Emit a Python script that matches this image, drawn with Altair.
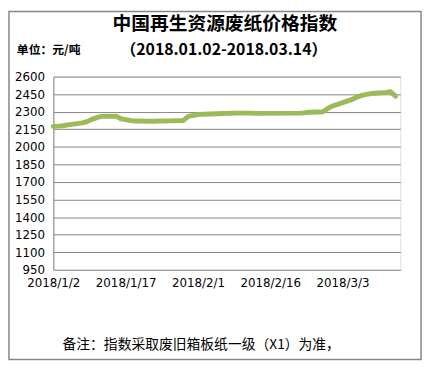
import altair as alt
import pandas as pd

dates = [
    "2018-01-02", "2018-01-03", "2018-01-04", "2018-01-05",
    "2018-01-08", "2018-01-09", "2018-01-10", "2018-01-11", "2018-01-12",
    "2018-01-15", "2018-01-16", "2018-01-17", "2018-01-18", "2018-01-19",
    "2018-01-22", "2018-01-23", "2018-01-24", "2018-01-25", "2018-01-26",
    "2018-01-29", "2018-01-30", "2018-01-31", "2018-02-01", "2018-02-02",
    "2018-02-05", "2018-02-06", "2018-02-07", "2018-02-08", "2018-02-09",
    "2018-02-12", "2018-02-13", "2018-02-14",
    "2018-02-22", "2018-02-23", "2018-02-24",
    "2018-02-26", "2018-02-27", "2018-02-28", "2018-03-01", "2018-03-02",
    "2018-03-05", "2018-03-06", "2018-03-07", "2018-03-08", "2018-03-09",
    "2018-03-12", "2018-03-13", "2018-03-14",
]
values = [
    2175, 2177, 2180, 2188,
    2205, 2215, 2235, 2250, 2260,
    2262, 2240, 2232, 2225, 2220,
    2218, 2218, 2220, 2220, 2222,
    2225, 2260, 2268, 2275, 2278,
    2282, 2284, 2286, 2287, 2288,
    2288, 2286, 2286,
    2288, 2290, 2295,
    2298, 2300, 2330, 2350, 2362,
    2405, 2425, 2440, 2448, 2455,
    2465, 2470, 2432,
]
y_ticks = [950, 1100, 1250, 1400, 1550, 1700, 1850, 2000, 2150, 2300, 2450, 2600]
x_ticks = [(2018, 1, 2), (2018, 1, 17), (2018, 2, 1), (2018, 2, 16), (2018, 3, 3)]

title = "中国再生资源废纸价格指数"
subtitle = "（2018.01.02-2018.03.14）"
unit = "单位：元/吨"
note = "备注：指数采取废旧箱板纸一级（X1）为准，"

df = pd.DataFrame({"date": [d + "T00:00:00" for d in dates], "value": values})

W, H = 352, 196

base = alt.Chart(df)

line = base.mark_line(color="#9BBB59", strokeWidth=5, strokeCap="round", strokeJoin="round").encode(
    x=alt.X(
        "date:T",
        title=None,
        scale=alt.Scale(domain=[alt.DateTime(year=2018, month=1, date=2),
                                alt.DateTime(year=2018, month=3, date=15)]),
        axis=alt.Axis(
            values=[alt.DateTime(year=y, month=m, date=d) for (y, m, d) in x_ticks],
            format="%Y/%-m/%-d",
            grid=False,
            ticks=False,
            domain=False,
            labelPadding=8,
            labelFontSize=12,
            labelColor="#000000",
            labelFont="DejaVu Sans",
            labelFlush=False,
        ),
    ),
    y=alt.Y(
        "value:Q",
        title=None,
        scale=alt.Scale(domain=[950, 2600], nice=False, zero=False),
        axis=alt.Axis(
            values=y_ticks,
            format="d",
            grid=True,
            gridColor="#868686",
            gridWidth=1,
            ticks=False,
            domain=True,
            domainColor="#868686",
            labelPadding=9,
            labelFontSize=12,
            labelColor="#000000",
            labelFont="DejaVu Sans",
        ),
    ),
)

def txt(s, x, y, size, bold, align="center"):
    return alt.Chart(pd.DataFrame({"t": [s]})).mark_text(
        fontSize=size,
        fontWeight="bold" if bold else "normal",
        font="Noto Sans CJK SC",
        align=align,
        baseline="middle",
        color="#000000",
    ).encode(x=alt.value(x), y=alt.value(y), text="t:N")

border = alt.Chart(pd.DataFrame({"a": [0]})).mark_rect(
    fill=None, stroke="#868686", strokeWidth=1.5
).encode(x=alt.value(-45), x2=alt.value(373), y=alt.value(-66), y2=alt.value(287))

chart = alt.layer(
    border,
    line,
    txt(title, 174, -53, 19, True),
    txt(subtitle, 173, -27, 16, True),
    txt(unit, -37, -27, 12, True, "left"),
    txt(note, 150, 272, 14, False),
).properties(
    width=W,
    height=H,
    autosize=alt.AutoSizeParams(type="none"),
    padding={"left": 46, "top": 67, "right": 22, "bottom": 92},
).configure_view(stroke=None).configure(background="white")

chart.save("out.html", embed_options={"renderer": "svg", "actions": False})
